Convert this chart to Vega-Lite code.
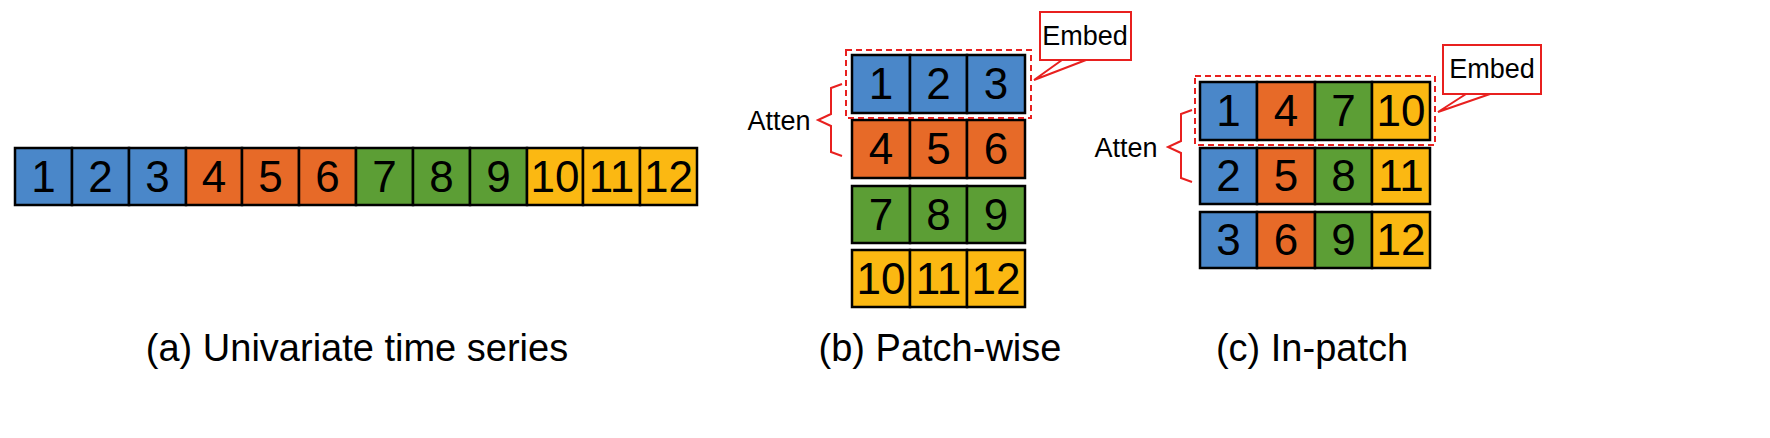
{
  "$schema": "https://vega.github.io/schema/vega-lite/v6.json",
  "width": 1770,
  "height": 438,
  "autosize": {"type": "fit", "contains": "padding"},
  "padding": 0,
  "background": "white",
  "config": {"view": {"stroke": null}},
  "datasets": {
    "cells": [
      {"x": 15, "x2": 72, "y": 148, "y2": 205, "c": "b", "t": "1"},
      {"x": 72, "x2": 129, "y": 148, "y2": 205, "c": "b", "t": "2"},
      {"x": 129, "x2": 186, "y": 148, "y2": 205, "c": "b", "t": "3"},
      {"x": 186, "x2": 242, "y": 148, "y2": 205, "c": "o", "t": "4"},
      {"x": 242, "x2": 299, "y": 148, "y2": 205, "c": "o", "t": "5"},
      {"x": 299, "x2": 356, "y": 148, "y2": 205, "c": "o", "t": "6"},
      {"x": 356, "x2": 413, "y": 148, "y2": 205, "c": "g", "t": "7"},
      {"x": 413, "x2": 470, "y": 148, "y2": 205, "c": "g", "t": "8"},
      {"x": 470, "x2": 527, "y": 148, "y2": 205, "c": "g", "t": "9"},
      {"x": 527, "x2": 583, "y": 148, "y2": 205, "c": "y", "t": "10"},
      {"x": 583, "x2": 640, "y": 148, "y2": 205, "c": "y", "t": "11"},
      {"x": 640, "x2": 697, "y": 148, "y2": 205, "c": "y", "t": "12"},

      {"x": 852, "x2": 910, "y": 55, "y2": 113, "c": "b", "t": "1"},
      {"x": 910, "x2": 967, "y": 55, "y2": 113, "c": "b", "t": "2"},
      {"x": 967, "x2": 1025, "y": 55, "y2": 113, "c": "b", "t": "3"},
      {"x": 852, "x2": 910, "y": 120, "y2": 178, "c": "o", "t": "4"},
      {"x": 910, "x2": 967, "y": 120, "y2": 178, "c": "o", "t": "5"},
      {"x": 967, "x2": 1025, "y": 120, "y2": 178, "c": "o", "t": "6"},
      {"x": 852, "x2": 910, "y": 186, "y2": 243, "c": "g", "t": "7"},
      {"x": 910, "x2": 967, "y": 186, "y2": 243, "c": "g", "t": "8"},
      {"x": 967, "x2": 1025, "y": 186, "y2": 243, "c": "g", "t": "9"},
      {"x": 852, "x2": 910, "y": 250, "y2": 307, "c": "y", "t": "10"},
      {"x": 910, "x2": 967, "y": 250, "y2": 307, "c": "y", "t": "11"},
      {"x": 967, "x2": 1025, "y": 250, "y2": 307, "c": "y", "t": "12"},

      {"x": 1200, "x2": 1257, "y": 82, "y2": 140, "c": "b", "t": "1"},
      {"x": 1257, "x2": 1315, "y": 82, "y2": 140, "c": "o", "t": "4"},
      {"x": 1315, "x2": 1372, "y": 82, "y2": 140, "c": "g", "t": "7"},
      {"x": 1372, "x2": 1430, "y": 82, "y2": 140, "c": "y", "t": "10"},
      {"x": 1200, "x2": 1257, "y": 148, "y2": 204, "c": "b", "t": "2"},
      {"x": 1257, "x2": 1315, "y": 148, "y2": 204, "c": "o", "t": "5"},
      {"x": 1315, "x2": 1372, "y": 148, "y2": 204, "c": "g", "t": "8"},
      {"x": 1372, "x2": 1430, "y": 148, "y2": 204, "c": "y", "t": "11"},
      {"x": 1200, "x2": 1257, "y": 212, "y2": 268, "c": "b", "t": "3"},
      {"x": 1257, "x2": 1315, "y": 212, "y2": 268, "c": "o", "t": "6"},
      {"x": 1315, "x2": 1372, "y": 212, "y2": 268, "c": "g", "t": "9"},
      {"x": 1372, "x2": 1430, "y": 212, "y2": 268, "c": "y", "t": "12"}
    ],
    "paths": [
      {"id": "br1", "o": 1, "x": 842, "y": 84},
      {"id": "br1", "o": 2, "x": 831, "y": 88},
      {"id": "br1", "o": 3, "x": 831, "y": 114},
      {"id": "br1", "o": 4, "x": 818, "y": 120},
      {"id": "br1", "o": 5, "x": 831, "y": 126},
      {"id": "br1", "o": 6, "x": 831, "y": 152},
      {"id": "br1", "o": 7, "x": 842, "y": 156},
      {"id": "br2", "o": 1, "x": 1192, "y": 110},
      {"id": "br2", "o": 2, "x": 1181, "y": 114},
      {"id": "br2", "o": 3, "x": 1181, "y": 141},
      {"id": "br2", "o": 4, "x": 1168, "y": 147},
      {"id": "br2", "o": 5, "x": 1181, "y": 153},
      {"id": "br2", "o": 6, "x": 1181, "y": 178},
      {"id": "br2", "o": 7, "x": 1192, "y": 182},
      {"id": "tl1", "o": 1, "x": 1062, "y": 60},
      {"id": "tl1", "o": 2, "x": 1034, "y": 80},
      {"id": "tl1", "o": 3, "x": 1086, "y": 60},
      {"id": "tl2", "o": 1, "x": 1466, "y": 94},
      {"id": "tl2", "o": 2, "x": 1438, "y": 112},
      {"id": "tl2", "o": 3, "x": 1490, "y": 94}
    ]
  },
  "layer": [
    {
      "data": {"name": "cells"},
      "mark": {"type": "rect", "stroke": "black", "strokeWidth": 2.5},
      "encoding": {
        "x": {"field": "x", "type": "quantitative", "scale": {"domain": [0, 1770], "nice": false, "zero": false}, "axis": null},
        "x2": {"field": "x2"},
        "y": {"field": "y", "type": "quantitative", "scale": {"domain": [438, 0], "nice": false, "zero": false}, "axis": null},
        "y2": {"field": "y2"},
        "color": {"field": "c", "type": "nominal", "legend": null,
          "scale": {"domain": ["b", "o", "g", "y"], "range": ["#4a87c9", "#e76a28", "#5c9e35", "#fbb812"]}}
      }
    },
    {
      "data": {"name": "cells"},
      "transform": [
        {"calculate": "(datum.x + datum.x2) / 2", "as": "cx"},
        {"calculate": "(datum.y + datum.y2) / 2", "as": "cy"}
      ],
      "mark": {"type": "text", "font": "Liberation Sans", "fontSize": 44, "baseline": "middle", "align": "center", "dy": 2, "color": "black"},
      "encoding": {
        "x": {"field": "cx", "type": "quantitative"},
        "y": {"field": "cy", "type": "quantitative"},
        "text": {"field": "t"}
      }
    },
    {
      "data": {"values": [
        {"x": 846, "x2": 1031, "y": 50, "y2": 118},
        {"x": 1195, "x2": 1435, "y": 76, "y2": 145}
      ]},
      "mark": {"type": "rect", "fill": null, "stroke": "#e8201f", "strokeWidth": 2, "strokeDash": [6, 4]},
      "encoding": {
        "x": {"field": "x", "type": "quantitative"},
        "x2": {"field": "x2"},
        "y": {"field": "y", "type": "quantitative"},
        "y2": {"field": "y2"}
      }
    },
    {
      "data": {"name": "paths"},
      "mark": {"type": "line", "color": "#e8201f", "strokeWidth": 2},
      "encoding": {
        "x": {"field": "x", "type": "quantitative"},
        "y": {"field": "y", "type": "quantitative"},
        "detail": {"field": "id"},
        "order": {"field": "o"}
      }
    },
    {
      "data": {"values": [
        {"x": 1040, "x2": 1131, "y": 12, "y2": 60},
        {"x": 1443, "x2": 1541, "y": 45, "y2": 94}
      ]},
      "mark": {"type": "rect", "fill": "white", "stroke": "#e8201f", "strokeWidth": 2},
      "encoding": {
        "x": {"field": "x", "type": "quantitative"},
        "x2": {"field": "x2"},
        "y": {"field": "y", "type": "quantitative"},
        "y2": {"field": "y2"}
      }
    },
    {
      "data": {"values": [
        {"x": 1085, "y": 37, "t": "Embed"},
        {"x": 1492, "y": 70, "t": "Embed"},
        {"x": 779, "y": 122, "t": "Atten"},
        {"x": 1126, "y": 149, "t": "Atten"}
      ]},
      "mark": {"type": "text", "font": "Liberation Sans", "fontSize": 27, "align": "center", "baseline": "middle", "color": "black"},
      "encoding": {
        "x": {"field": "x", "type": "quantitative"},
        "y": {"field": "y", "type": "quantitative"},
        "text": {"field": "t"}
      }
    },
    {
      "data": {"values": [
        {"x": 357, "y": 350, "t": "(a) Univariate time series"},
        {"x": 940, "y": 350, "t": "(b) Patch-wise"},
        {"x": 1312, "y": 350, "t": "(c) In-patch"}
      ]},
      "mark": {"type": "text", "font": "Liberation Sans", "fontSize": 38, "align": "center", "baseline": "middle", "color": "black"},
      "encoding": {
        "x": {"field": "x", "type": "quantitative"},
        "y": {"field": "y", "type": "quantitative"},
        "text": {"field": "t"}
      }
    }
  ]
}
